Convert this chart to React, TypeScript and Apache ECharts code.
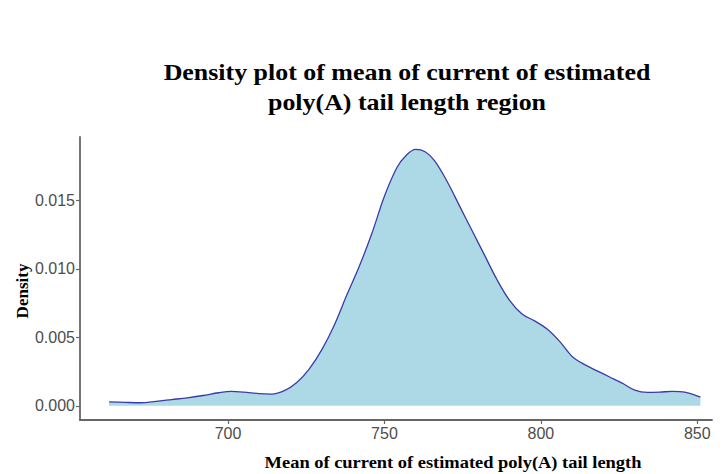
import React, { useEffect, useRef } from "react";
import * as echarts from "echarts";

const xValues = [662, 667, 672, 677, 682, 687, 692, 697, 701, 705, 710, 714, 718, 722, 726, 730, 734, 738, 742, 746, 750, 754, 757, 760, 763, 766, 770, 774, 778, 782, 786, 790, 794, 798, 802, 806, 810, 814, 818, 822, 826, 830, 834, 838, 842, 846, 851];
const densityValues = [0.00029, 0.00025, 0.00022, 0.00032, 0.00045, 0.00058, 0.00075, 0.00095, 0.00105, 0.001, 0.00088, 0.00085, 0.0011, 0.0017, 0.0027, 0.0041, 0.0059, 0.0081, 0.0102, 0.0126, 0.0153, 0.0174, 0.0183, 0.01872, 0.01855, 0.0179, 0.0164, 0.0146, 0.0128, 0.011, 0.0092, 0.0077, 0.0067, 0.0062, 0.0056, 0.0047, 0.0036, 0.003, 0.00255, 0.0021, 0.00165, 0.00115, 0.00098, 0.001, 0.00105, 0.001, 0.00063];
const xTicks = [700, 750, 800, 850];
const yTicks = [0, 0.005, 0.01, 0.015];
const titleLines = ["Density plot of mean of current of estimated", "poly(A) tail length region"];
const xTitle = "Mean of current of estimated poly(A) tail length";
const yTitle = "Density";

export default function App() {
  const ref = useRef<HTMLDivElement>(null);
  useEffect(() => {
    if (!ref.current) return;
    const chart = echarts.init(ref.current, undefined, { renderer: "svg" });
    const serif = "'Liberation Serif', 'Times New Roman', serif";
    const sans = "'Liberation Sans', Arial, sans-serif";
    const axisColor = "#666666";
    chart.setOption({
      animation: false,
      backgroundColor: "#ffffff",
      grid: { left: 80, right: 11, top: 137, bottom: 54, containLabel: false },
      xAxis: {
        type: "value",
        min: 652.7,
        max: 854.7,
        axisLine: { show: true, onZero: false, lineStyle: { color: axisColor, width: 1.8 } },
        axisTick: { show: true, length: 4, customValues: xTicks, lineStyle: { color: axisColor, width: 1.2 } },
        axisLabel: { customValues: xTicks, color: "#4d4d4d", fontSize: 16, fontFamily: sans, margin: 5 },
        splitLine: { show: false },
      },
      yAxis: {
        type: "value",
        min: -0.00104,
        max: 0.01963,
        axisLine: { show: true, onZero: false, lineStyle: { color: axisColor, width: 1.8 } },
        axisTick: { show: true, length: 4, customValues: yTicks, lineStyle: { color: axisColor, width: 1.2 } },
        axisLabel: {
          customValues: yTicks,
          color: "#4d4d4d",
          fontSize: 16,
          fontFamily: sans,
          margin: 5,
          formatter: (v: number) => v.toFixed(3),
        },
        splitLine: { show: false },
      },
      series: [
        {
          type: "line",
          data: xValues.map((x, i) => [x, densityValues[i]]),
          smooth: 0.35,
          showSymbol: false,
          lineStyle: { color: "#3b3ba6", width: 1.3 },
          areaStyle: { color: "#add8e6", opacity: 1, origin: "auto" },
        },
      ],
      graphic: [
        {
          type: "text",
          x: 407,
          y: 72,
          scaleX: 1.08,
          style: { text: titleLines[0], fontFamily: serif, fontWeight: "bold", fontSize: 24, fill: "#000", textAlign: "center", textVerticalAlign: "middle" },
        },
        {
          type: "text",
          x: 407,
          y: 102,
          scaleX: 1.08,
          style: { text: titleLines[1], fontFamily: serif, fontWeight: "bold", fontSize: 24, fill: "#000", textAlign: "center", textVerticalAlign: "middle" },
        },
        {
          type: "text",
          x: 453,
          y: 462,
          scaleX: 1.085,
          style: { text: xTitle, fontFamily: serif, fontWeight: "bold", fontSize: 17, fill: "#000", textAlign: "center", textVerticalAlign: "middle" },
        },
        {
          type: "text",
          x: 22,
          y: 291,
          rotation: Math.PI / 2,
          style: { text: yTitle, fontFamily: serif, fontWeight: "bold", fontSize: 17, fill: "#000", textAlign: "center", textVerticalAlign: "middle" },
        },
      ],
    });
    return () => chart.dispose();
  }, []);
  return <div ref={ref} style={{ width: 723, height: 474, position: "absolute", left: 0, top: 0 }} />;
}
